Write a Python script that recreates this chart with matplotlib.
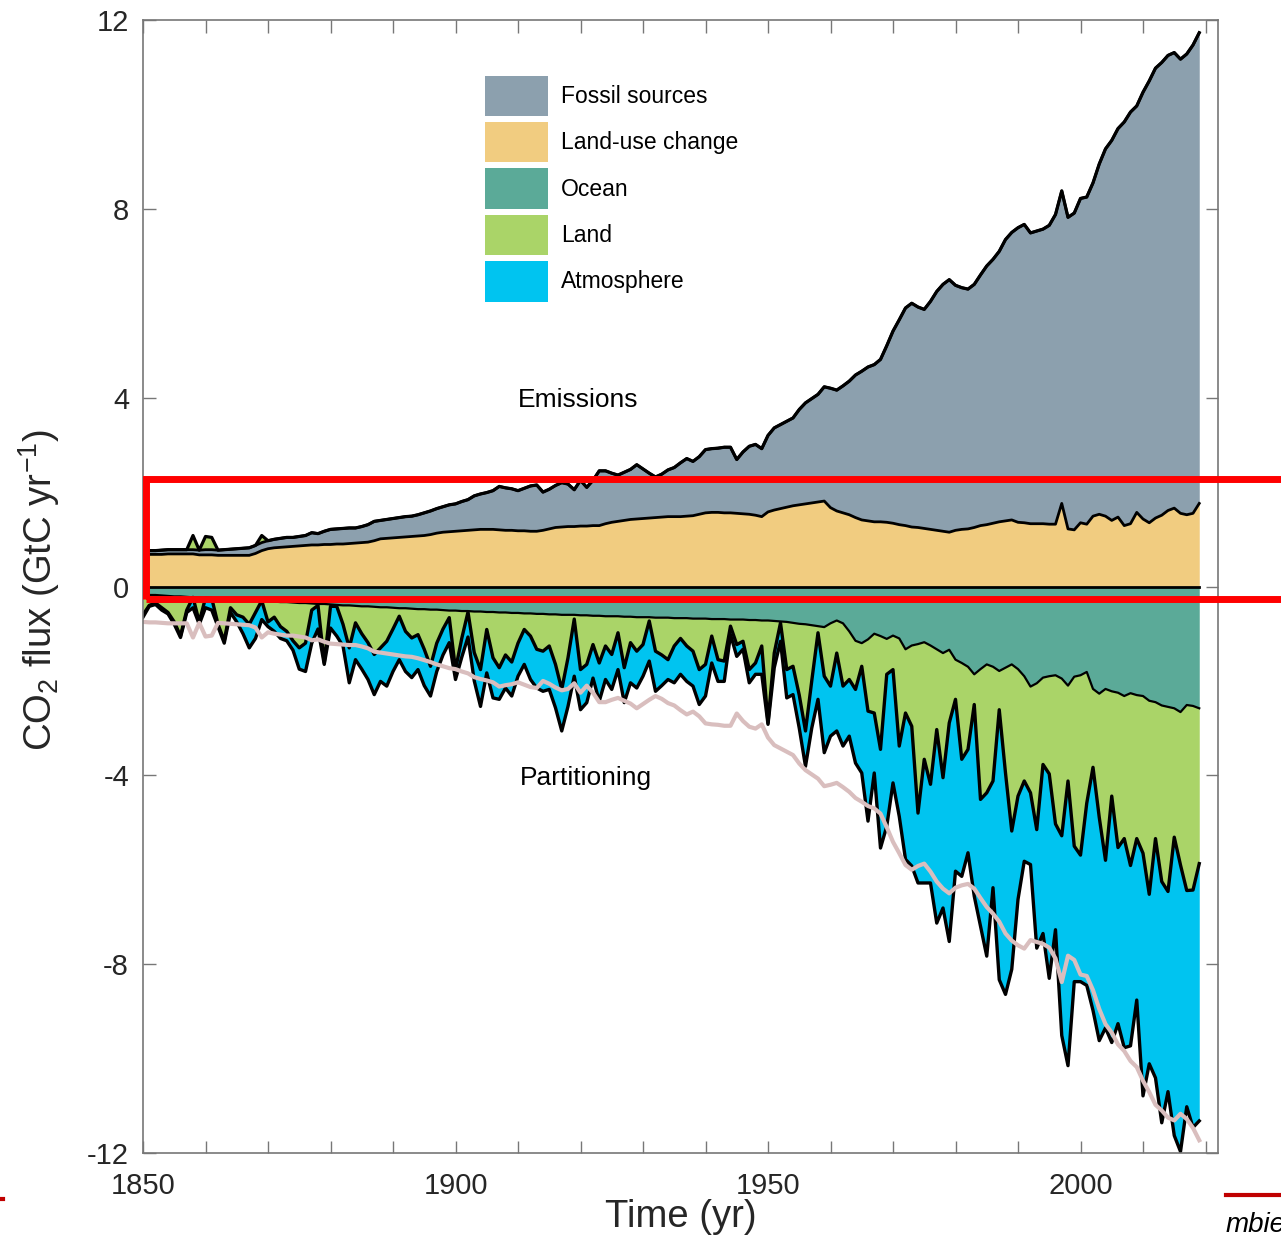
import matplotlib.pyplot as plt
import numpy as np
from matplotlib.patches import Patch, Rectangle

years = np.arange(1850, 2020)

# emissions (GtC/yr)
fossil = np.array([
    0.07, 0.08, 0.08, 0.09, 0.09, 0.09, 0.09, 0.09, 0.09, 0.10,
    0.11, 0.11, 0.11, 0.12, 0.13, 0.14, 0.15, 0.16, 0.17, 0.17,
    0.17, 0.18, 0.19, 0.20, 0.19, 0.20, 0.21, 0.26, 0.24, 0.28,
    0.32, 0.32, 0.33, 0.33, 0.32, 0.34, 0.37, 0.41, 0.39, 0.40,
    0.41, 0.42, 0.43, 0.43, 0.45, 0.48, 0.50, 0.52, 0.54, 0.57,
    0.58, 0.62, 0.65, 0.72, 0.75, 0.78, 0.82, 0.92, 0.90, 0.88,
    0.85, 0.90, 0.96, 0.98, 0.81, 0.84, 0.89, 0.94, 0.90, 0.78,
    0.97, 0.82, 0.96, 1.16, 1.12, 1.04, 0.98, 1.02, 1.06, 1.15,
    1.05, 0.95, 0.86, 0.91, 0.99, 1.04, 1.14, 1.22, 1.15, 1.22,
    1.34, 1.35, 1.36, 1.39, 1.39, 1.14, 1.31, 1.44, 1.50, 1.44,
    1.62, 1.74, 1.78, 1.82, 1.86, 2.02, 2.14, 2.21, 2.28, 2.42,
    2.53, 2.56, 2.69, 2.83, 3.02, 3.15, 3.26, 3.33, 3.44, 3.74,
    4.07, 4.34, 4.61, 4.74, 4.67, 4.64, 4.83, 5.06, 5.23, 5.35,
    5.19, 5.12, 5.08, 5.15, 5.31, 5.48, 5.59, 5.73, 5.96, 6.09,
    6.24, 6.32, 6.16, 6.20, 6.24, 6.33, 6.56, 6.62, 6.60, 6.71,
    6.87, 6.93, 7.06, 7.42, 7.78, 8.05, 8.23, 8.55, 8.72, 8.61,
    9.04, 9.36, 9.53, 9.59, 9.64, 9.65, 9.62, 9.76, 9.92, 9.97])

land_use = np.array([
    0.68, 0.68, 0.68, 0.68, 0.69, 0.69, 0.69, 0.69, 0.69, 0.67,
    0.67, 0.67, 0.66, 0.66, 0.66, 0.66, 0.66, 0.66, 0.70, 0.76,
    0.80, 0.82, 0.83, 0.84, 0.85, 0.86, 0.87, 0.88, 0.88, 0.89,
    0.89, 0.90, 0.90, 0.91, 0.92, 0.93, 0.94, 0.97, 1.01, 1.02,
    1.03, 1.04, 1.05, 1.06, 1.07, 1.08, 1.10, 1.13, 1.15, 1.16,
    1.17, 1.18, 1.19, 1.20, 1.21, 1.21, 1.21, 1.20, 1.19, 1.19,
    1.18, 1.18, 1.17, 1.17, 1.19, 1.22, 1.25, 1.26, 1.27, 1.27,
    1.28, 1.28, 1.29, 1.29, 1.33, 1.36, 1.38, 1.40, 1.42, 1.43,
    1.44, 1.45, 1.46, 1.47, 1.48, 1.48, 1.48, 1.49, 1.50, 1.53,
    1.56, 1.57, 1.57, 1.56, 1.56, 1.55, 1.54, 1.53, 1.51, 1.48,
    1.58, 1.62, 1.65, 1.68, 1.71, 1.73, 1.75, 1.77, 1.79, 1.81,
    1.67, 1.60, 1.56, 1.52, 1.46, 1.41, 1.39, 1.37, 1.37, 1.36,
    1.34, 1.31, 1.29, 1.26, 1.25, 1.23, 1.21, 1.19, 1.17, 1.15,
    1.19, 1.21, 1.22, 1.25, 1.29, 1.31, 1.34, 1.37, 1.39, 1.41,
    1.36, 1.35, 1.33, 1.33, 1.33, 1.32, 1.32, 1.76, 1.22, 1.20,
    1.35, 1.32, 1.49, 1.53, 1.49, 1.40, 1.47, 1.29, 1.33, 1.57,
    1.43, 1.35, 1.45, 1.51, 1.61, 1.66, 1.55, 1.52, 1.55, 1.76])

# sinks (GtC/yr); negative land values are land sources
ocean = np.array([
    0.17, 0.18, 0.18, 0.19, 0.20, 0.21, 0.21, 0.22, 0.23, 0.23,
    0.24, 0.25, 0.25, 0.26, 0.27, 0.28, 0.28, 0.29, 0.30, 0.30,
    0.31, 0.32, 0.33, 0.33, 0.34, 0.35, 0.35, 0.36, 0.37, 0.37,
    0.38, 0.39, 0.40, 0.40, 0.41, 0.42, 0.42, 0.43, 0.44, 0.44,
    0.45, 0.46, 0.46, 0.47, 0.48, 0.48, 0.49, 0.49, 0.50, 0.51,
    0.51, 0.52, 0.52, 0.53, 0.53, 0.54, 0.54, 0.55, 0.55, 0.56,
    0.56, 0.57, 0.57, 0.58, 0.58, 0.59, 0.59, 0.60, 0.60, 0.60,
    0.61, 0.61, 0.62, 0.62, 0.63, 0.63, 0.63, 0.64, 0.64, 0.65,
    0.65, 0.65, 0.66, 0.66, 0.66, 0.67, 0.67, 0.67, 0.68, 0.68,
    0.68, 0.69, 0.69, 0.69, 0.70, 0.70, 0.70, 0.71, 0.71, 0.72,
    0.72, 0.73, 0.74, 0.75, 0.77, 0.79, 0.80, 0.82, 0.84, 0.86,
    0.78, 0.72, 0.78, 0.95, 1.15, 1.20, 1.12, 1.00, 1.05, 1.11,
    1.04, 1.10, 1.33, 1.25, 1.22, 1.18, 1.25, 1.33, 1.41, 1.34,
    1.55, 1.62, 1.70, 1.86, 1.75, 1.65, 1.70, 1.79, 1.72, 1.65,
    1.75, 1.90, 2.12, 2.05, 1.93, 1.90, 1.88, 1.95, 2.10, 1.91,
    1.88, 1.81, 2.17, 2.27, 2.17, 2.22, 2.25, 2.32, 2.26, 2.30,
    2.32, 2.42, 2.45, 2.52, 2.55, 2.58, 2.66, 2.51, 2.53, 2.58])

land = np.array([
    0.43, 0.22, 0.17, 0.26, 0.35, 0.54, 0.84, 0.28, -0.30, 0.52,
    -0.28, -0.26, 0.55, 0.89, 0.18, 0.32, 0.37, 0.51, 0.25, -0.15,
    0.44, 0.33, 0.52, 0.62, 0.81, 0.95, 0.85, 0.14, 0.03, 1.25,
    0.04, 0.03, 0.40, 0.90, 0.36, 0.58, 0.77, 1.01, 0.86, 0.72,
    0.45, 0.17, 0.49, 0.62, 0.54, 0.85, 1.20, 0.71, 0.40, 0.15,
    1.25, 0.58, 0.02, 0.87, 1.23, 0.37, 0.97, 1.17, 0.90, 1.04,
    0.64, 0.34, 0.48, 0.75, 0.79, 0.67, 1.06, 1.58, 0.91, 0.09,
    1.15, 1.04, 0.61, 1.00, 0.63, 0.81, 0.35, 1.08, 0.55, 0.72,
    0.58, 0.08, 0.71, 0.79, 0.89, 0.59, 0.43, 0.59, 0.69, 1.08,
    0.97, 0.36, 0.86, 0.89, 0.14, 0.53, 0.46, 1.05, 0.91, 0.54,
    2.17, 0.68, 0.03, 1.01, 0.92, 1.51, 2.26, 1.18, 0.14, 1.04,
    1.33, 0.69, 1.33, 1.02, 1.03, 0.49, 1.52, 1.68, 2.40, 0.75,
    0.72, 2.28, 1.35, 1.71, 3.58, 2.48, 2.94, 1.70, 2.64, 1.55,
    0.84, 2.04, 1.75, 0.64, 2.76, 2.72, 2.42, 0.82, 2.23, 3.53,
    2.69, 2.22, 2.25, 3.10, 1.84, 2.07, 3.15, 3.33, 2.02, 3.59,
    3.81, 2.78, 1.66, 2.62, 3.63, 2.22, 3.28, 3.02, 3.65, 3.04,
    3.33, 4.10, 2.89, 3.73, 3.91, 2.73, 3.24, 3.93, 3.90, 3.29])

atmosphere = np.array([
    0.05, 0.02, 0.03, 0.05, 0.03, 0.05, 0.03, 0.05, 0.22, 0.05,
    0.21, 0.25, 0.05, 0.05, 0.10, 0.15, 0.35, 0.50, 0.55, 0.40,
    0.10, 0.30, 0.25, 0.20, 0.20, 0.45, 0.60, 0.70, 0.50, 0.03,
    0.46, 0.63, 0.46, 0.74, 0.78, 0.75, 0.78, 0.85, 0.71, 0.95,
    0.90, 0.92, 0.85, 0.84, 0.74, 0.77, 0.63, 0.60, 0.55, 0.53,
    0.21, 0.40, 0.53, 0.60, 0.78, 0.92, 0.85, 0.67, 0.70, 0.72,
    0.70, 0.74, 0.92, 0.82, 0.85, 0.92, 0.92, 0.88, 1.03, 1.21,
    0.85, 0.81, 0.71, 0.81, 0.71, 0.74, 0.78, 0.74, 0.85, 0.78,
    0.67, 0.85, 0.85, 0.65, 0.42, 0.78, 0.76, 0.75, 0.74, 0.74,
    0.67, 0.57, 0.46, 0.43, 0.18, 0.25, 0.17, 0.28, 0.24, 0.60,
    0.03, 0.31, 0.39, 0.60, 0.60, 0.70, 0.75, 1.00, 1.41, 1.62,
    1.06, 1.65, 1.27, 1.20, 1.56, 2.26, 2.33, 1.27, 2.09, 3.22,
    2.40, 1.49, 3.10, 2.96, 1.48, 2.62, 2.09, 4.10, 2.76, 4.63,
    3.64, 2.48, 2.19, 4.06, 2.69, 3.46, 2.26, 5.72, 4.69, 2.93,
    2.19, 1.70, 1.52, 2.51, 3.58, 4.33, 2.24, 4.23, 6.03, 2.87,
    2.68, 3.86, 5.15, 4.73, 3.55, 5.22, 3.73, 4.43, 3.82, 3.42,
    5.14, 3.59, 5.07, 5.11, 4.24, 6.32, 6.07, 4.58, 5.03, 5.45])

labels = ['Fossil sources', 'Land-use change', 'Ocean', 'Land', 'Atmosphere']
colors = ['#8CA0AE', '#F1CC80', '#5BAA98', '#AAD468', '#00C4F0']
c_fossil, c_luc, c_ocean, c_land, c_atm = colors
c_total = '#D9BEBE'

plt.rcParams['font.family'] = ['Liberation Sans', 'DejaVu Sans']
plt.rcParams['mathtext.default'] = 'regular'
plt.rcParams['axes.unicode_minus'] = False

fig = plt.figure(figsize=(12.81, 12.39), dpi=100)
ax = fig.add_axes([143/1281, 1 - 1153/1239, 1075/1281, 1133/1239])

source = np.clip(-land, 0, None)
sink = np.clip(land, 0, None)

luc_top = land_use
em_top = land_use + fossil
src_top = em_top + source
oc_bot = -ocean
land_bot = oc_bot - sink
atm_bot = land_bot - atmosphere

ax.fill_between(years, 0, luc_top, color=c_luc, lw=0)
ax.fill_between(years, luc_top, em_top, color=c_fossil, lw=0)
ax.fill_between(years, em_top, src_top, color=c_land, lw=0)
ax.fill_between(years, 0, oc_bot, color=c_ocean, lw=0)
ax.fill_between(years, oc_bot, land_bot, color=c_land, lw=0)
ax.fill_between(years, land_bot, atm_bot, color=c_atm, lw=0)

ax.plot(years, np.zeros_like(years, dtype=float), color='k', lw=2)
ax.plot(years, luc_top, color='k', lw=2)
ax.plot(years, em_top, color='k', lw=2)
ax.plot(years, src_top, color='k', lw=2.3)
ax.plot(years, oc_bot, color='k', lw=1.6)
ax.plot(years, land_bot, color='k', lw=2.4)
ax.plot(years, atm_bot, color='k', lw=2.4)

# mirrored total emissions
ax.plot(years, -src_top, color=c_total, lw=3)

ax.text(1919.7, 3.96, 'Emissions', ha='center', va='center', fontsize=19)
ax.text(1920.8, -4.05, 'Partitioning', ha='center', va='center', fontsize=19)

handles = [Patch(facecolor=c, edgecolor='none') for c in colors]
ax.legend(handles, labels, loc='upper left', bbox_to_anchor=(0.318, 0.951),
          frameon=False, fontsize=16.5, handlelength=2.75, handleheight=2.35,
          labelspacing=0.25, handletextpad=0.57, borderpad=0, borderaxespad=0)

ax.set_xlim(1850, 2022)
ax.set_ylim(-12, 12)
ax.set_xticks([1850, 1900, 1950, 2000])
ax.set_xticks(np.arange(1850, 2021, 10), minor=True)
ax.set_yticks(np.arange(-12, 13, 4))
ax.tick_params(which='both', direction='in', length=9, width=1, color='#777777',
               top=True, right=True, labelsize=21, labelcolor='#262626')
ax.tick_params(axis='x', pad=14)
ax.tick_params(axis='y', pad=10)
for s in ax.spines.values():
    s.set_color('#777777')
    s.set_linewidth(1.2)

ax.set_xlabel('Time (yr)', fontsize=27.5, color='#262626')
ax.set_ylabel('CO$_2$ flux (GtC yr$^{-1}$)', fontsize=27.5, color='#262626')
ax.xaxis.set_label_coords(0.5, -0.041)
ax.yaxis.set_label_coords(-0.075, 0.497)

# slide overlays
fig.add_artist(Rectangle((145.5/1281, 1 - 599/1239), 1.2, 119.5/1239,
                         transform=fig.transFigure, fill=False,
                         edgecolor='#FF0000', lw=5, clip_on=False))
fig.add_artist(plt.Line2D([1226/1281, 1], [1 - 1195/1239] * 2,
                          transform=fig.transFigure, color='#C00000', lw=3))
fig.add_artist(plt.Line2D([0, 3/1281], [1 - 1199/1239] * 2,
                          transform=fig.transFigure, color='#C00000', lw=3))
fig.text(1226/1281, 1 - 1232/1239, 'mbie', fontsize=20, style='italic',
         ha='left', va='baseline')

fig.savefig('out.png', dpi=100)
